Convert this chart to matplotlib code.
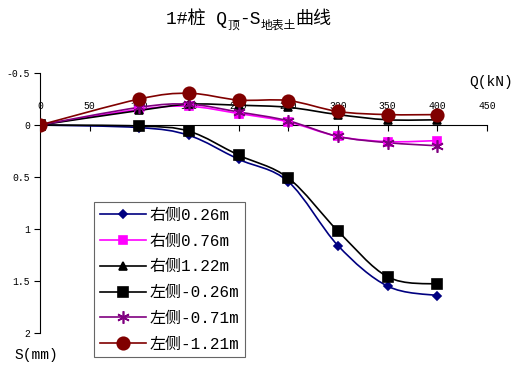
import numpy as np
import matplotlib
matplotlib.use("Agg")
import matplotlib.pyplot as plt
from matplotlib.path import Path
from matplotlib.patches import PathPatch
from matplotlib.lines import Line2D
from matplotlib.ticker import FixedLocator, FixedFormatter

plt.rcParams['font.family'] = ['Liberation Mono', 'Noto Sans CJK SC', 'DejaVu Sans']

# load steps (kN)
q = [0, 100, 150, 200, 250, 300, 350, 400]

# surface soil settlement (mm), negative = heave
s_r026 = [0, 0.025, 0.10, 0.33, 0.545, 1.16, 1.55, 1.64]
s_r076 = [0, -0.15, -0.18, -0.11, -0.03, 0.11, 0.16, 0.15]
s_r122 = [0, -0.14, -0.20, -0.19, -0.17, -0.10, -0.05, -0.05]
s_l026 = [0, 0.01, 0.06, 0.29, 0.51, 1.02, 1.46, 1.53]
s_l071 = [0, -0.17, -0.20, -0.125, -0.04, 0.11, 0.17, 0.20]
s_l121 = [0, -0.25, -0.305, -0.24, -0.235, -0.13, -0.10, -0.10]

labels = ['右侧0.26m', '右侧0.76m', '右侧1.22m', '左侧-0.26m', '左侧-0.71m', '左侧-1.21m']
series = [s_r026, s_r076, s_r122, s_l026, s_l071, s_l121]
colors = ['#000080', '#FF00FF', '#000000', '#000000', '#800080', '#800000']
markers = ['D', 's', '^', 's', (6, 2, 0), 'o']
msizes = [4, 6, 6, 7.5, 9, 9]


def smooth_path(x, y):
    # bezier through the points, like a spreadsheet "smoothed line"
    pts = np.column_stack([x, y]).astype(float)
    ext = np.vstack([pts[0], pts, pts[-1]])
    verts = [pts[0]]
    codes = [Path.MOVETO]
    for i in range(len(pts) - 1):
        p0, p1, p2, p3 = ext[i], ext[i + 1], ext[i + 2], ext[i + 3]
        c1 = p1 + (p2 - p0) / 6.0
        c2 = p2 - (p3 - p1) / 6.0
        verts += [c1, c2, p2]
        codes += [Path.CURVE4] * 3
    return Path(verts, codes)


fig = plt.figure(figsize=(5.15, 3.7), dpi=100)
ax = fig.add_axes([40 / 515, 37 / 370, 447 / 515, 260 / 370])

handles = []
for s, lab, c, m, ms in zip(series, labels, colors, markers, msizes):
    ax.add_patch(PathPatch(smooth_path(q, s), fill=False, edgecolor=c, lw=1.2, zorder=3))
    ax.plot(q, s, ls='none', marker=m, ms=ms, color=c, mec=c, mew=1.2, zorder=4)
    handles.append(Line2D([], [], color=c, lw=1.2, marker=m, ms=ms, mec=c, mew=1.2))

ax.set_xlim(0, 450)
ax.set_ylim(2, -0.5)

# x axis sits at S = 0 with labels above it
ax.xaxis.tick_top()
ax.spines['top'].set_position(('data', 0))
ax.spines['bottom'].set_visible(False)
ax.spines['right'].set_visible(False)
for sp in ['top', 'left']:
    ax.spines[sp].set_linewidth(0.8)
ax.set_xticks(np.arange(0, 451, 50))
ax.tick_params(axis='x', direction='in', length=4, pad=10, labelsize=7, width=0.8)
ax.yaxis.set_major_locator(FixedLocator([-0.5, 0, 0.5, 1, 1.5, 2]))
ax.yaxis.set_major_formatter(FixedFormatter(['-0.5', '0', '0.5', '1', '1.5', '2']))
ax.tick_params(axis='y', direction='out', length=4, pad=3, labelsize=7, width=0.8)

fig.text(469 / 515, 1 - 82 / 370, 'Q(kN)', fontsize=10.5, ha='left', va='center')
fig.text(14 / 515, 1 - 355 / 370, 'S(mm)', fontsize=10.5, ha='left', va='center')

# title with subscripts, pieces chained end to end
t = fig.text(166 / 515, 1 - 24 / 370, '1#桩 Q', fontsize=13, ha='left', va='baseline')
pieces = [('顶', 8.5, -3), ('-S', 13, 3), ('地表土', 8.5, -3), ('曲线', 13, 3)]
prev = t
for txt, fs, dy in pieces:
    prev = ax.annotate(txt, xy=(1, 0), xycoords=prev, xytext=(0, dy),
                       textcoords='offset points', fontsize=fs,
                       ha='left', va='bottom', annotation_clip=False)

leg = fig.legend(handles, labels, loc='upper left',
                 bbox_to_anchor=(94 / 515, 1 - 202 / 370), fontsize=11.5,
                 frameon=True, fancybox=False, handlelength=2.9,
                 borderpad=0.35, labelspacing=0.68, handletextpad=0.25,
                 borderaxespad=0)
leg.get_frame().set_edgecolor('#404040')
leg.get_frame().set_linewidth(0.8)

fig.savefig('out.png', dpi=100)
